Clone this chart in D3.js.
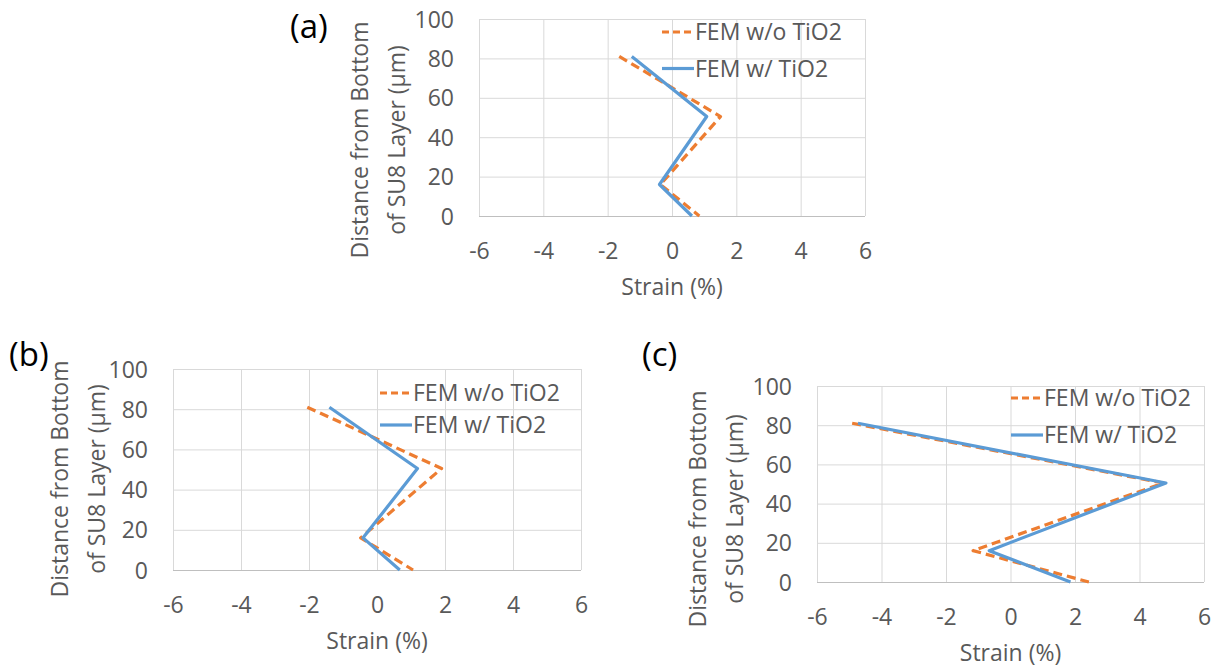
<!DOCTYPE html>
<html>
<head>
<meta charset="utf-8">
<script src="https://cdn.jsdelivr.net/npm/d3@7"></script>
<style>
  html, body { margin: 0; padding: 0; background: #fff; }
  svg { display: block; }
</style>
</head>
<body>
<div id="chart"></div>
<script>
// depth (µm from bottom of SU8 layer) for each vertex of the strain profile
const depth = [81, 50.5, 16, 0];
const xTicks = [-6, -4, -2, 0, 2, 4, 6];
const yTicks = [0, 20, 40, 60, 80, 100];
const seriesNames = ["FEM w/o TiO2", "FEM w/ TiO2"];

// strain (%)
const strainA_noTiO2 = [-1.64, 1.51, -0.36, 0.85];
const strainA_TiO2 = [-1.25, 1.08, -0.39, 0.62];
const strainB_noTiO2 = [-2.05, 1.90, -0.48, 1.06];
const strainB_TiO2 = [-1.40, 1.19, -0.41, 0.67];
const strainC_noTiO2 = [-4.91, 4.74, -1.16, 2.43];
const strainC_TiO2 = [-4.73, 4.82, -0.66, 1.86];

const colors = ["#ED7D31", "#5B9BD5"];
const textColor = "#595959";
const font = "'Open Sans', 'DejaVu Sans', sans-serif";

// panel layout (pixel boxes of each plot area)
const panels = [
    { label: "(a)", labelX: 290, labelY: 38, left: 479, right: 865, top: 19, bottom: 216,
      titleX1: 360, titleX2: 397, titleY: 140, legendX: 662, legendY: 32, legendGap: 36.5,
      series: [strainA_noTiO2, strainA_TiO2] },
    { label: "(b)", labelX: 9, labelY: 366, left: 173, right: 581, top: 369, bottom: 570,
      titleX1: 60, titleX2: 97, titleY: 479, legendX: 380, legendY: 393, legendGap: 32,
      series: [strainB_noTiO2, strainB_TiO2] },
    { label: "(c)", labelX: 642, labelY: 366, left: 817, right: 1204, top: 386, bottom: 582,
      titleX1: 698, titleX2: 735, titleY: 509, legendX: 1011, legendY: 398, legendGap: 37,
      series: [strainC_noTiO2, strainC_TiO2] }
];

const svg = d3.select("#chart").append("svg")
    .attr("width", 1220)
    .attr("height", 670)
    .attr("font-family", font);

panels.forEach(p => {
    const w = p.right - p.left;
    const h = p.bottom - p.top;
    const x = d3.scaleLinear().domain([-6, 6]).range([0, w]);
    const y = d3.scaleLinear().domain([0, 100]).range([h, 0]);

    const g = svg.append("g").attr("transform", `translate(${p.left},${p.top})`);

    // grid lines
    g.append("g")
        .call(d3.axisBottom(x).tickValues(xTicks).tickSize(-h).tickFormat(""))
        .attr("transform", `translate(0,${h})`)
        .call(s => s.select(".domain").remove())
        .call(s => s.selectAll("line").attr("stroke", "#D9D9D9").attr("stroke-width", 1));
    g.append("g")
        .call(d3.axisLeft(y).tickValues(yTicks).tickSize(-w).tickFormat(""))
        .call(s => s.select(".domain").remove())
        .call(s => s.selectAll("line").attr("stroke", (d) => d === 0 ? "#BFBFBF" : "#D9D9D9").attr("stroke-width", 1));

    // tick labels
    g.append("g")
        .attr("transform", `translate(0,${h})`)
        .call(d3.axisBottom(x).tickValues(xTicks).tickSize(0).tickFormat(d => String(d)))
        .call(s => s.select(".domain").remove())
        .call(s => s.selectAll("text")
            .attr("y", 35).attr("dy", "0.35em")
            .attr("fill", textColor).attr("font-size", 23).attr("font-family", font));
    g.append("g")
        .call(d3.axisLeft(y).tickValues(yTicks).tickSize(0).tickFormat(d => String(d)))
        .call(s => s.select(".domain").remove())
        .call(s => s.selectAll("text")
            .attr("x", -25).attr("dy", "0.35em")
            .attr("fill", textColor).attr("font-size", 23).attr("font-family", font));

    // series lines
    const line = d3.line()
        .x(d => x(d[0]))
        .y(d => y(d[1]));
    p.series.forEach((vals, i) => {
        g.append("path")
            .datum(vals.map((v, k) => [v, depth[k]]))
            .attr("d", line)
            .attr("fill", "none")
            .attr("stroke", colors[i])
            .attr("stroke-width", 3.2)
            .attr("stroke-linejoin", "round")
            .attr("stroke-dasharray", i === 0 ? "9,5" : null);
    });

    // axis titles
    svg.append("text")
        .attr("x", p.left + w / 2)
        .attr("y", p.bottom + 71)
        .attr("dy", "0.35em")
        .attr("text-anchor", "middle")
        .attr("fill", textColor)
        .attr("font-size", 23)
        .text("Strain (%)");
    [["Distance from Bottom", p.titleX1], ["of SU8 Layer (µm)", p.titleX2]].forEach(([t, tx]) => {
        svg.append("text")
            .attr("transform", `translate(${tx},${p.titleY}) rotate(-90)`)
            .attr("dy", "0.35em")
            .attr("text-anchor", "middle")
            .attr("fill", textColor)
            .attr("font-size", 23)
            .text(t);
    });

    // legend
    seriesNames.forEach((name, i) => {
        const ly = p.legendY + i * p.legendGap;
        svg.append("line")
            .attr("x1", p.legendX).attr("x2", p.legendX + 32)
            .attr("y1", ly).attr("y2", ly)
            .attr("stroke", colors[i])
            .attr("stroke-width", 3.2)
            .attr("stroke-dasharray", i === 0 ? "7,4" : null);
        svg.append("text")
            .attr("x", p.legendX + 33)
            .attr("y", ly)
            .attr("dy", "0.35em")
            .attr("fill", textColor)
            .attr("font-size", 23)
            .text(name);
    });

    // panel label
    svg.append("text")
        .attr("x", p.labelX)
        .attr("y", p.labelY)
        .attr("fill", "#000")
        .attr("font-size", 33)
        .text(p.label);
});
</script>
</body>
</html>
